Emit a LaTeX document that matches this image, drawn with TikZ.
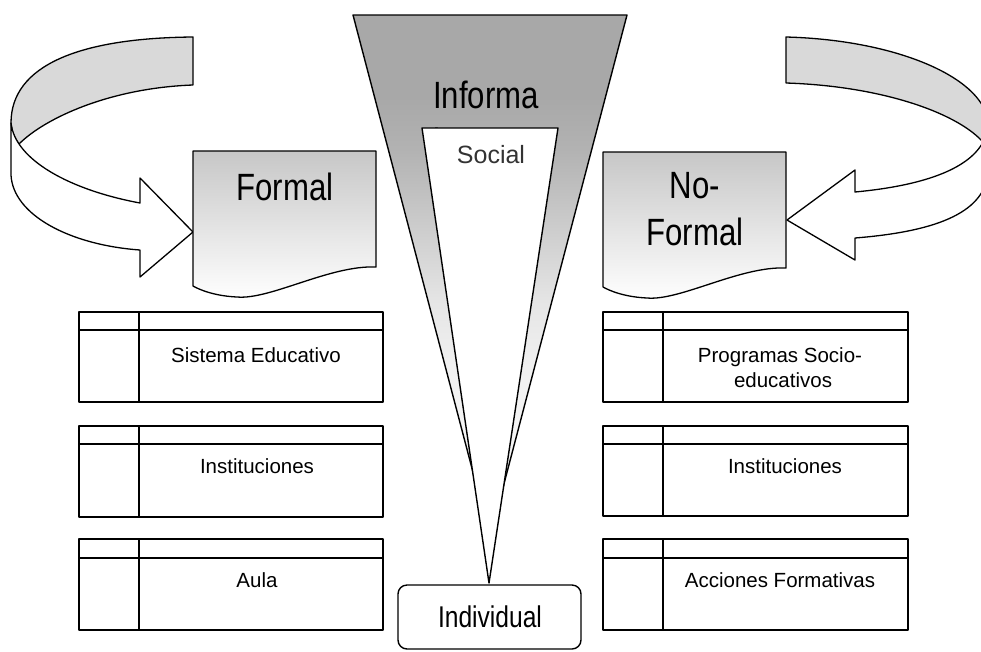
\documentclass[tikz,border=0pt]{standalone}
\usepackage{fontspec}
\setmainfont{Liberation Sans}
\usepackage{graphicx}
\newcommand{\cond}[1]{\scalebox{0.82}[1]{#1}}
\pgfdeclareverticalshading{funnelshade}{100bp}{color(0bp)=(black!3); color(25bp)=(black!3); color(40bp)=(black!5); color(47.5bp)=(black!10); color(55.5bp)=(black!21); color(62bp)=(black!30); color(67bp)=(black!34); color(75bp)=(black!34); color(100bp)=(black!34)}
\begin{document}
\begin{tikzpicture}[x=1pt,y=-1pt,line join=round,
  bigtxt/.style={font=\fontsize{38}{44}\selectfont, inner sep=0pt, anchor=base},
  indtxt/.style={font=\fontsize{30}{36}\selectfont, inner sep=0pt, anchor=base},
  smtxt/.style={font=\fontsize{20.5}{25}\selectfont, inner sep=0pt, anchor=base},
  soctxt/.style={font=\fontsize{25}{30}\selectfont, inner sep=0pt, anchor=base, text=black!80},
  tbl/.style={draw=black, line width=1.6pt},
  band/.style={draw=black, line width=1.3pt, fill=black!15},
  wband/.style={draw=black, line width=1.3pt, fill=white},
  docshape/.style={draw=black, line width=1.3pt, top color=black!22, bottom color=white},
  funnelout/.style={draw=black, line width=1.4pt, shading=funnelshade},
  funnelin/.style={draw=black, line width=1.4pt, fill=white},
]
\clip (0,0) rectangle (981,651);
\fill[white] (0,0) rectangle (981,651);

% ---------- left curved arrow ----------
\path[band] (193,37) .. controls (80,38) and (11,65) .. (11,123)
  .. controls (12,133) and (15,140) .. (19,144)
  .. controls (45,118) and (110,88) .. (193,85) -- cycle;
\path[wband] (11,123) -- (11,175) .. controls (13,215) and (70,245) .. (140,250)
  -- (140,277) -- (193,232) -- (140,178) -- (140,203)
  .. controls (70,190) and (15,160) .. (11,123) -- cycle;

% ---------- right curved arrow ----------
\path[band] (786,37) .. controls (900,40) and (988,80) .. (988,125)
  .. controls (987,132) and (984,137) .. (982,141)
  .. controls (955,112) and (880,86) .. (786,83) -- cycle;
\path[wband] (988,125) -- (988,172) .. controls (985,215) and (930,232) .. (855,238)
  -- (855,260) -- (787,220) -- (855,170) -- (855,192)
  .. controls (930,185) and (985,165) .. (988,125) -- cycle;

% ---------- document shapes ----------
\path[docshape] (193,151) -- (376,151) -- (376,267)
  .. controls (330,265) and (270,300) .. (237,297)
  .. controls (215,296) and (200,290) .. (193,286) -- cycle;
\node[bigtxt] (formal) at (285,200) {\cond{Formal}};

\path[docshape] (603,152) -- (786,152) -- (786,268)
  .. controls (740,266) and (680,301) .. (647,298)
  .. controls (625,297) and (610,291) .. (603,287) -- cycle;
\node[bigtxt] (noformal1) at (695,198) {\cond{No-}};
\node[bigtxt] (noformal2) at (695,245) {\cond{Formal}};

% ---------- funnel ----------
\path[funnelout] (353,15) -- (627,15) -- (490,537) -- cycle;
\node[bigtxt, anchor=base west] (informa) at (433,108) {\cond{Informa}};
\node[bigtxt, anchor=base west] (informl) at (433,155) {\cond{l}};
\path[funnelin] (422,128) -- (558,128) -- (489,583) -- cycle;
\node[soctxt] (social) at (491,163) {Social};

% ---------- individual ----------
\path[draw=black, line width=1.4pt, fill=white, rounded corners=9pt] (398,585) rectangle (581,649);
\node[indtxt] (individual) at (490,627) {\cond{Individual}};

% ---------- left tables ----------
\foreach \t/\h/\b in {312/330/402, 426/444/517, 539/558/630}{
  \draw[tbl] (79,\t) rectangle (383,\b);
  \draw[tbl] (79,\h) -- (383,\h);
  \draw[tbl] (139,\t) -- (139,\b);
}
\node[smtxt] (sistema) at (256,362) {Sistema Educativo};
\node[smtxt] (instL) at (257,473) {Instituciones};
\node[smtxt] (aula) at (257,587) {Aula};

% ---------- right tables ----------
\foreach \t/\h/\b in {312/330/402, 426/444/516, 539/558/630}{
  \draw[tbl] (603,\t) rectangle (908,\b);
  \draw[tbl] (603,\h) -- (908,\h);
  \draw[tbl] (663,\t) -- (663,\b);
}
\node[smtxt] (prog1) at (780,362) {Programas Socio-};
\node[smtxt] (prog2) at (783,387) {educativos};
\node[smtxt] (instR) at (785,473) {Instituciones};
\node[smtxt] (acciones) at (780,587) {Acciones Formativas};
\end{tikzpicture}
\end{document}
